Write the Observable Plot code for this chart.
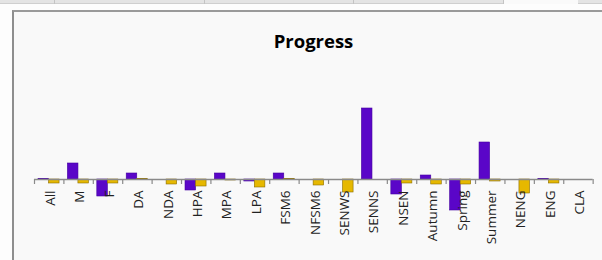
<!DOCTYPE html>
<html><head><meta charset="utf-8">
<script src="https://cdn.jsdelivr.net/npm/d3@7"></script>
<script src="https://cdn.jsdelivr.net/npm/@observablehq/plot@0.6"></script>
<style>
html,body{margin:0;padding:0;overflow:hidden;width:602px;height:260px}
body{background:#fdfdfd;position:relative;font-family:"Open Sans",sans-serif}
#strip{position:absolute;left:0;top:0;width:602px;height:3px;background:#e4e4e4;border-bottom:1px solid #cfcfcf}
.vl{position:absolute;top:0;width:1px;height:4px;background:#c4c4c4}
#gap{position:absolute;left:504px;top:0;width:74px;height:4px;background:#fafafa}
#box{position:absolute;left:12px;top:10px;right:-20px;bottom:-20px;background:#f9f9f9;border-left:2px solid #8e8e8e;border-top:2px solid #9a9a9a}
#title{position:absolute;left:0;top:29px;width:602px;padding-left:25px;box-sizing:border-box;text-align:center;font-weight:bold;font-size:18.5px;line-height:24px;color:#000}
#chart{position:absolute;left:0;top:60px;width:602px;height:200px;overflow:hidden}
#chart svg{display:block}
</style>
</head><body>
<div id="strip"></div>
<div class="vl" style="left:54px"></div><div class="vl" style="left:204px"></div><div class="vl" style="left:353px"></div><div class="vl" style="left:503px"></div>
<div id="gap"></div>
<div id="box"></div>
<div id="title">Progress</div>
<div id="chart"></div>
<script>
const categories = ["All","M","F","DA","NDA","HPA","MPA","LPA","FSM6","NFSM6","SENWS","SENNS","NSEN","Autumn","Spring","Summer","NENG","ENG","CLA"];
const series1 = [0.05,1.6,-1.7,0.6,0,-1.1,0.6,-0.2,0.6,0,0,7.1,-1.5,0.4,-3.1,3.7,0,0.05,null];
const series2 = [-0.4,-0.4,-0.4,0.05,-0.5,-0.7,-0.1,-0.8,0.05,-0.6,-1.3,0,-0.4,-0.5,-0.5,-0.2,-1.4,-0.4,null];

const half = (592.65 - 34) / categories.length / 2;
const plot = Plot.plot({
  width: 602,
  height: 200,
  marginLeft: 34,
  marginRight: 9.35,
  marginTop: 0,
  marginBottom: 0,
  style: {background: "transparent"},
  x: {type: "band", domain: categories, padding: 0, round: false, axis: null},
  y: {domain: [-8.1, 11.9], range: [200, 0], axis: null},
  marks: [
    Plot.barY(categories, {x: d => d, y: (d, i) => series1[i], fill: "#5a06c8", stroke: "#4500a0", strokeWidth: 0.6, insetLeft: 4, insetRight: 14.85}),
    Plot.barY(categories, {x: d => d, y: (d, i) => series2[i], fill: "#e6b800", stroke: "#8a6c00", strokeWidth: 0.6, insetLeft: 14.5, insetRight: 4.35}),
    Plot.ruleY([0], {stroke: "#8a8a8a", strokeWidth: 1.5}),
    Plot.ruleX(categories, {x: d => d, y1: () => 0, y2: () => 0, insetBottom: -5, dx: -half, stroke: "#8a8a8a", strokeWidth: 1.2}),
    Plot.ruleX(categories.slice(-1), {x: d => d, y1: () => 0, y2: () => 0, insetBottom: -5, dx: half, stroke: "#8a8a8a", strokeWidth: 1.2}),
    Plot.text(categories, {x: d => d, y: () => 0, text: d => d, rotate: -90, textAnchor: "end", dy: 11, dx: 1.5, fontSize: 13.5, fill: "#222", fontFamily: "Open Sans"})
  ]
});
document.getElementById("chart").appendChild(plot);
</script>
</body></html>
